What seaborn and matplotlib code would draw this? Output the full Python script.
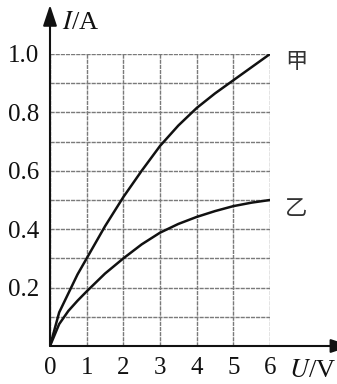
import matplotlib
matplotlib.use("Agg")
import matplotlib.pyplot as plt
import seaborn as sns
import pandas as pd
import numpy as np

# Data
u_vals = [0, 0.25, 0.5, 0.75, 1, 1.5, 2, 2.5, 3, 3.5, 4, 4.5, 5, 5.5, 6]
i_jia = [0, 0.115, 0.18, 0.245, 0.30, 0.41, 0.51, 0.60, 0.685, 0.755, 0.815, 0.865, 0.91, 0.955, 1.0]
i_yi = [0, 0.075, 0.12, 0.155, 0.187, 0.248, 0.30, 0.348, 0.388, 0.418, 0.442, 0.462, 0.479, 0.491, 0.50]
series_names = ["甲", "乙"]
x_ticks = [0, 1, 2, 3, 4, 5, 6]
y_ticks = [0.2, 0.4, 0.6, 0.8, 1.0]
y_tick_labels = ["0.2", "0.4", "0.6", "0.8", "1.0"]

df = pd.DataFrame({
    "U": u_vals * 2,
    "I": i_jia + i_yi,
    "s": [series_names[0]] * len(u_vals) + [series_names[1]] * len(u_vals),
})

sns.set_style("white")
plt.rcParams["font.family"] = ["Liberation Serif", "Noto Sans CJK SC"]
plt.rcParams["mathtext.fontset"] = "stix"

fig = plt.figure(figsize=(3.37, 3.84), dpi=100)
ax = fig.add_axes([50 / 337, 38 / 384, 220 / 337, 292 / 384])

sns.lineplot(data=df, x="U", y="I", hue="s", palette=["#111111", "#111111"],
             legend=False, ax=ax, linewidth=1.8, sort=True)

ax.set_xlim(0, 6)
ax.set_ylim(0, 1.0)
ax.set_xticks(x_ticks)
ax.set_yticks(y_ticks)
ax.set_yticks(np.arange(0.1, 1.0, 0.2), minor=True)
ax.set_xticklabels([str(t) for t in x_ticks])
ax.set_yticklabels(y_tick_labels)
ax.tick_params(axis="both", which="both", length=0, labelsize=18, colors="#111111")
ax.tick_params(axis="x", pad=8)
ax.tick_params(axis="y", pad=8)
ax.grid(True, which="both", color="#7a7a7a", linewidth=1.0, linestyle=(0, (3, 0.7)))
for side in ["top", "right", "left", "bottom"]:
    ax.spines[side].set_visible(False)
ax.set_xlabel("")
ax.set_ylabel("")

# Axis arrows
ax.annotate("", xy=(1.37, 0), xytext=(0, 0), xycoords="axes fraction",
            arrowprops=dict(arrowstyle="-|>,head_length=0.9,head_width=0.3", color="#111111",
                            lw=1.5, mutation_scale=14, shrinkA=0, shrinkB=0),
            annotation_clip=False)
ax.annotate("", xy=(0, 1.168), xytext=(0, 0), xycoords="axes fraction",
            arrowprops=dict(arrowstyle="-|>,head_length=0.9,head_width=0.3", color="#111111",
                            lw=1.5, mutation_scale=14, shrinkA=0, shrinkB=0),
            annotation_clip=False)

# Axis labels
fig.text(62 / 337, 1 - 23 / 384, r"$\mathit{I}$/A", fontsize=19, va="center", ha="left",
         color="#111111")
fig.text(336 / 337, 1 - 371 / 384, r"$\mathit{U}$/V", fontsize=19, va="center", ha="right",
         color="#111111")

# Series labels
ax.text(6.72, 0.975, series_names[0], fontsize=16, va="center", ha="center",
        family=["Noto Sans CJK SC"], color="#333333", clip_on=False)
ax.text(6.72, 0.47, series_names[1], fontsize=16, va="center", ha="center",
        family=["Noto Sans CJK SC"], color="#333333", clip_on=False)

fig.savefig("out.png", dpi=100)
